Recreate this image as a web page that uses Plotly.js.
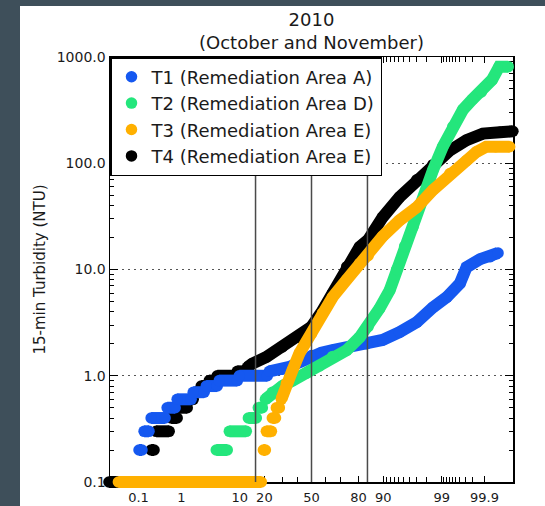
<!DOCTYPE html>
<html><head><meta charset="utf-8">
<script src="https://cdn.plot.ly/plotly-3.0.1.min.js"></script>
<style>
html,body{margin:0;padding:0;background:#3e4f5a;width:545px;height:506px;overflow:hidden;}
#chart{position:absolute;left:20px;top:6px;width:525px;height:500px;background:#fff;}
</style></head><body><div id="chart"></div>
<script>
// ---- axis tick definitions (cumulative probability, %) ----
const xTickPct  = [0.1, 1, 10, 20, 50, 80, 90, 99, 99.9];
const xTickText = ['0.1', '1', '10', '20', '50', '80', '90', '99', '99.9'];
const xMinorPct = [0.2,0.3,0.4,0.5,0.6,0.7,0.8,0.9, 2,3,4,5,6,7,8,9, 30,40,60,70,
                   91,92,93,94,95,96,97,98, 99.1,99.2,99.3,99.4,99.5,99.6,99.7,99.8];
const refLinePct = [15.87, 50, 84.13];           // mean - 1 sd, median, mean + 1 sd
const yTickVals = [0.1, 1, 10, 100, 1000];
const yTickText = ['0.1', '1.0', '10.0', '100.0', '1000.0'];
const yMinorVals = [0.2,0.3,0.4,0.5,0.6,0.7,0.8,0.9, 2,3,4,5,6,7,8,9,
                    20,30,40,50,60,70,80,90, 200,300,400,500,600,700,800,900];

// ---- series: cumulative probability (%) vs 15-min turbidity (NTU); null separates runs ----
const t1Pct = [0.035,0.091,null, 0.103,0.123,null, 0.139,0.185,null, 0.208,0.446,null,
               0.495,0.743,null, 0.82,1.58,null, 1.73,2.76,null, 3.0,4.61,null, 4.97,9.26,null,
               9.86,21.5,null, 22.6,30,34.7,42,50,57,64.7,75.2,83.8,89.8,94.2,97.0,98.5,99.22,
               99.6,99.72,99.87,99.93,99.957];
const t1Ntu = [0.1,0.1,null, 0.2,0.2,null, 0.3,0.3,null, 0.4,0.4,null,
               0.5,0.5,null, 0.6,0.6,null, 0.7,0.7,null, 0.8,0.8,null, 0.9,0.9,null,
               1.0,1.0,null, 1.1,1.15,1.21,1.35,1.55,1.65,1.74,1.86,2.0,2.17,2.57,3.2,4.4,5.5,
               7.4,10.5,12.5,13.2,14.3];

const t2Pct = [0.04,4.2,null, 4.44,6.62,null, 7.1,12.2,null, 12.96,16.2,null, 17.1,19.0,null,
               20.5,24.2,30.1,36.7,46.4,55.7,64.7,73.5,80.5,84.4,88.8,91.9,93.6,95.2,96.5,
               97.66,98.5,99.05,99.42,99.66,99.8,99.88,99.937,99.96,99.978];
const t2Ntu = [0.1,0.1,null, 0.2,0.2,null, 0.3,0.3,null, 0.4,0.4,null, 0.5,0.5,null,
               0.6,0.7,0.8,0.9,1.06,1.24,1.52,1.74,2.3,2.9,4.3,6.4,10,16.5,25,
               45,86,143,220,320,400,470,610,811,811];

const t3Pct = [0.028,18.5,null, 19.5,20.5,null, 21.0,23.7,null, 24.2,26.0,null, 26.5,28.3,null,
               29.5,32.7,36.7,41.5,50,57.8,64.7,73.5,80.5,84.4,89.8,94.2,97.0,98.5,99.33,
               99.72,99.84,99.91,99.95,99.98];
const t3Ntu = [0.1,0.1,null, 0.2,0.2,null, 0.3,0.3,null, 0.4,0.4,null, 0.5,0.5,null,
               0.6,0.85,1.13,1.63,2.5,3.9,5.5,8,11.4,13.5,20.5,29,38.5,56,80,
               106,128,143,143,143];

const t4Pct = [0.0148,0.185,null, 0.208,0.246,null, 0.275,0.55,null, 0.607,0.82,null,
               0.904,1.32,null, 1.44,1.73,null, 1.89,2.24,null, 2.44,3.12,null, 3.39,4.27,null,
               4.61,8.67,null, 9.26,11.86,null, 12.6,14.5,21,30.1,41.5,50,57.8,64.7,73.5,80.5,
               84.4,89.8,94.2,97.0,98.5,99.33,99.72,99.89,99.962,99.984];
const t4Ntu = [0.1,0.1,null, 0.2,0.2,null, 0.3,0.3,null, 0.4,0.4,null,
               0.5,0.5,null, 0.6,0.6,null, 0.7,0.7,null, 0.8,0.8,null, 0.9,0.9,null,
               1.0,1.0,null, 1.1,1.1,null, 1.2,1.3,1.5,1.87,2.3,2.9,4.1,6.0,10.6,16.3,
               19,31,48,70,97,132,165,190,196,200];

const seriesNames = ['T1 (Remediation Area A)', 'T2 (Remediation Area D)',
                     'T3 (Remediation Area E)', 'T4 (Remediation Area E)'];
const titleLines = ['2010', '(October and November)'];

// ---- normal-probability scale: percent -> standard normal quantile ----
function probit(p){
  const a=[-3.969683028665376e+01,2.209460984245205e+02,-2.759285104469687e+02,1.383577518672690e+02,-3.066479806614716e+01,2.506628277459239e+00];
  const b=[-5.447609879822406e+01,1.615858368580409e+02,-1.556989798598866e+02,6.680131188771972e+01,-1.328068155288572e+01];
  const c=[-7.784894002430293e-03,-3.223964580411365e-01,-2.400758277161838e+00,-2.549732539343734e+00,4.374664141464968e+00,2.938163982698783e+00];
  const d=[7.784695709041462e-03,3.224671290700398e-01,2.445134137142996e+00,3.754408661907416e+00];
  const pl=0.02425, ph=1-pl; let q, r;
  if(p<pl){q=Math.sqrt(-2*Math.log(p));return (((((c[0]*q+c[1])*q+c[2])*q+c[3])*q+c[4])*q+c[5])/((((d[0]*q+d[1])*q+d[2])*q+d[3])*q+1);}
  if(p<=ph){q=p-0.5;r=q*q;return (((((a[0]*r+a[1])*r+a[2])*r+a[3])*r+a[4])*r+a[5])*q/(((((b[0]*r+b[1])*r+b[2])*r+b[3])*r+b[4])*r+1);}
  q=Math.sqrt(-2*Math.log(1-p));return -(((((c[0]*q+c[1])*q+c[2])*q+c[3])*q+c[4])*q+c[5])/((((d[0]*q+d[1])*q+d[2])*q+d[3])*q+1);
}
const toZ = p => (p === null ? null : probit(p / 100));

// ---- geometry: visible frame (x/y) sits inside a slightly larger data subplot (x2/y2) with
//      the identical scale, so the thick dot bands can overlap the frame as in the original ----
const W = 525, H = 500, EXT = 10;
const ML = 90, MR = 32, MT = 51, MB = 24;
const PW = W - ML - MR, PH = H - MT - MB;               // frame size in px
const AW = PW + 2*EXT, AH = PH + 2*EXT;                 // data-area size in px
const X_RANGE = [-3.6, 3.6], Y_RANGE = [-1, 3];
const xPerPx = (X_RANGE[1]-X_RANGE[0]) / PW, yPerPx = (Y_RANGE[1]-Y_RANGE[0]) / PH;
const X2_RANGE = [X_RANGE[0]-EXT*xPerPx, X_RANGE[1]+EXT*xPerPx];
const Y2_RANGE = [Y_RANGE[0]-EXT*yPerPx, Y_RANGE[1]+EXT*yPerPx];
const xDom = [EXT/AW, 1-EXT/AW], yDom = [EXT/AH, 1-EXT/AH];

const FONT = 'DejaVu Sans, Arial, sans-serif';
const traces = [];
function addSeries(name, pct, ntu, color, rank){
  const x = pct.map(toZ);
  traces.push({type:'scatter', mode:'lines', x:x, y:ntu, xaxis:'x2', yaxis:'y2',
               line:{color:color, width:12}, showlegend:false, hoverinfo:'skip'});
  traces.push({type:'scatter', mode:'markers', x:x, y:ntu, xaxis:'x2', yaxis:'y2', name:name,
               marker:{color:color, size:11.5, line:{width:0}}, legendrank:rank});
}
// drawing order: T4 at the bottom, T3 on top
addSeries(seriesNames[3], t4Pct, t4Ntu, '#000000', 4);
addSeries(seriesNames[0], t1Pct, t1Ntu, '#1558f0', 1);
addSeries(seriesNames[1], t2Pct, t2Ntu, '#24e67c', 2);
addSeries(seriesNames[2], t3Pct, t3Ntu, '#ffb000', 3);
// empty trace so the frame subplot is drawn
traces.unshift({type:'scatter', mode:'markers', x:[], y:[], xaxis:'x', yaxis:'y',
                showlegend:false, hoverinfo:'skip'});

const shapes = refLinePct.map(p => ({type:'line', xref:'x', yref:'y domain', x0:toZ(p), x1:toZ(p),
  y0:0, y1:1, line:{color:'#4a4a4a', width:1.5}, layer:'above'}));

const layout = {
  width:W, height:H,
  margin:{l:ML-EXT, r:MR-EXT, t:MT-EXT, b:MB-EXT},
  paper_bgcolor:'#ffffff', plot_bgcolor:'rgba(0,0,0,0)',
  font:{family:FONT, color:'#1a1a1a', size:14},
  title:{text:titleLines.join('<br>'), font:{family:FONT, size:18, color:'#1a1a1a'},
         x:0.5, xref:'paper', xanchor:'center', y:0.96, yref:'container', yanchor:'middle'},
  xaxis:{type:'linear', range:X_RANGE, domain:xDom, anchor:'y',
         tickmode:'array', tickvals:xTickPct.map(toZ), ticktext:xTickText,
         ticks:'inside', ticklen:6, tickwidth:1.2, tickcolor:'#000',
         minor:{tickmode:'array', tickvals:xMinorPct.map(toZ), ticks:'inside', ticklen:5,
                tickwidth:1, tickcolor:'#000', showgrid:false},
         showgrid:false, zeroline:false, showline:true, linecolor:'#000', linewidth:1.5,
         mirror:'allticks', tickfont:{size:13}, ticklabelstandoff:3, fixedrange:true},
  yaxis:{type:'log', range:Y_RANGE, domain:yDom, anchor:'x',
         tickmode:'array', tickvals:yTickVals, ticktext:yTickText,
         ticks:'inside', ticklen:8, tickwidth:1.2, tickcolor:'#000',
         minor:{tickmode:'array', tickvals:yMinorVals, ticks:'inside', ticklen:4,
                tickwidth:1, tickcolor:'#000', showgrid:false},
         showgrid:true, gridcolor:'#555', gridwidth:1.4, griddash:'2px,4px',
         zeroline:false, showline:true, linecolor:'#000', linewidth:1.5, mirror:'allticks',
         tickfont:{size:14}, ticklabelstandoff:0, fixedrange:true,
         title:{text:'15-min Turbidity (NTU)', font:{size:15}, standoff:7}},
  xaxis2:{type:'linear', range:X2_RANGE, domain:[0,1], anchor:'y2', visible:false, fixedrange:true},
  yaxis2:{type:'log', range:Y2_RANGE, domain:[0,1], anchor:'x2', visible:false, fixedrange:true},
  legend:{x:xDom[0], y:yDom[1], xref:'paper', yref:'paper', xanchor:'left', yanchor:'top',
          bgcolor:'#ffffff', bordercolor:'#000', borderwidth:1.5,
          font:{family:FONT, size:18, color:'#1a1a1a'}, tracegroupgap:0, itemclick:false},
  shapes:shapes,
  showlegend:true
};
Plotly.newPlot('chart', traces, layout, {displayModeBar:false, staticPlot:true});
</script></body></html>
